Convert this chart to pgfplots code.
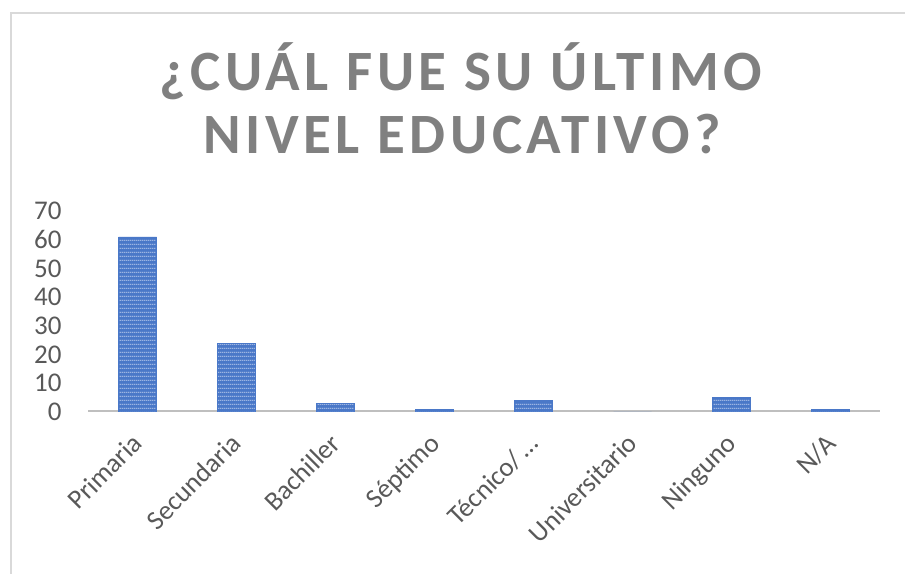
\documentclass[border=0pt]{standalone}
\usepackage{pgfplots}
\pgfplotsset{compat=1.18}
\usepackage{fontspec}
\setmainfont{Carlito}
\newfontfamily\titlefont[LetterSpace=8]{Carlito}
\usetikzlibrary{patterns}

\definecolor{barblue}{HTML}{4A78C8}
\definecolor{stripe}{HTML}{C8D6F0}
\definecolor{titlegray}{HTML}{808080}
\definecolor{labelgray}{HTML}{595959}
\definecolor{axisgray}{HTML}{BFBFBF}
\definecolor{framegray}{HTML}{D9D9D9}

% thin, dense horizontal stripes like the Excel bar texture
\pgfdeclarepatternformonly{densehlines}{\pgfpointorigin}{\pgfpoint{1pt}{1.8pt}}{\pgfpoint{1pt}{1.8pt}}{%
  \pgfsetlinewidth{0.5pt}%
  \pgfpathmoveto{\pgfpoint{0pt}{1.5pt}}%
  \pgfpathlineto{\pgfpoint{1pt}{1.5pt}}%
  \pgfusepath{stroke}}

\begin{document}
\begin{tikzpicture}
  % picture is 905 x 573 px, 1 px = 0.5pt, origin bottom left
  \useasboundingbox (0pt,0pt) rectangle (452.5pt,286.5pt);
  \draw[framegray, line width=1pt] (5.5pt,-2pt) -- (5.5pt,280pt) -- (455pt,280pt);

  \node[font=\titlefont\bfseries\fontsize{28.5}{30}\selectfont, text=titlegray]
    at (230.5pt,251pt) {¿CUÁL FUE SU ÚLTIMO};
  \node[font=\titlefont\bfseries\fontsize{28.5}{30}\selectfont, text=titlegray]
    at (231pt,219.5pt) {NIVEL EDUCATIVO?};

  \begin{axis}[
      at={(44pt,80.5pt)}, anchor=south west,
      scale only axis,
      width=396pt, height=100.5pt,
      ymin=0, ymax=70,
      ytick={0,10,...,70},
      xmin=-0.5, xmax=7.5,
      xtick=data,
      xticklabels={Primaria,Secundaria,Bachiller,Séptimo,Técnico/\,…,Universitario,Ninguno,N/A},
      tick style={draw=none},
      axis line style={draw=none},
      tick label style={font=\fontsize{13.5}{14}\selectfont, text=labelgray},
      /pgf/number format/assume math mode=true,
      yticklabel style={inner sep=0pt, xshift=-13pt},
      xticklabel style={xshift=-3.3pt, yshift=-5.5pt, rotate=45, anchor=north east, inner sep=0pt},
      ybar, bar width=19pt,
    ]
    \draw[axisgray, line width=1.5pt] (rel axis cs:0,0) -- (rel axis cs:1,0);
    \addplot[fill=barblue, draw=barblue, line width=0.3pt,
             postaction={pattern=densehlines, pattern color=stripe}]
      coordinates {(0,61) (1,24) (2,3) (3,1) (4,4) (5,0) (6,5) (7,1)};
  \end{axis}
\end{tikzpicture}
\end{document}
